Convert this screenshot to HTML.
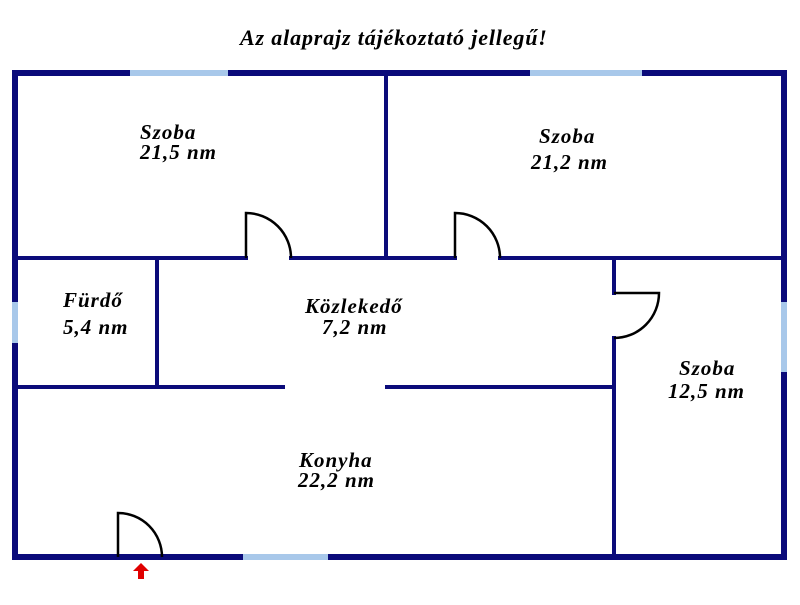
<!DOCTYPE html>
<html><head><style>
body{margin:0;background:#fff;width:800px;height:600px;overflow:hidden}
text{font-family:"Liberation Serif",serif;font-weight:bold;font-style:italic;font-size:21px;letter-spacing:1px;fill:#000}
</style></head><body>
<svg width="800" height="600" xmlns="http://www.w3.org/2000/svg">
<g stroke="#0b0b7a" fill="none" stroke-linecap="square">
<rect x="15" y="73" width="769" height="484" stroke-width="6"/>
<g stroke-width="4">
<line x1="15" y1="258" x2="246" y2="258"/>
<line x1="291" y1="258" x2="455" y2="258"/>
<line x1="500" y1="258" x2="784" y2="258"/>
<line x1="386" y1="73" x2="386" y2="258"/>
<line x1="614" y1="258" x2="614" y2="293"/>
<line x1="614" y1="338" x2="614" y2="557"/>
<line x1="157" y1="258" x2="157" y2="387"/>
<line x1="15" y1="387" x2="283" y2="387"/>
<line x1="387" y1="387" x2="614" y2="387"/>
</g>
</g>
<g stroke="#a8c8ea" stroke-width="6">
<line x1="130" y1="73" x2="228" y2="73"/>
<line x1="530" y1="73" x2="642" y2="73"/>
<line x1="243" y1="557" x2="328" y2="557"/>
<line x1="15" y1="302" x2="15" y2="343"/>
<line x1="784" y1="302" x2="784" y2="372"/>
</g>
<g stroke="#000" stroke-width="2.5" fill="none">
<path d="M246 258 V213 A45 45 0 0 1 291 258"/>
<path d="M455 258 V213 A45 45 0 0 1 500 258"/>
<path d="M614 293 H659 A45 45 0 0 1 614 338"/>
<path d="M118 557 V513 A44 44 0 0 1 162 557"/>
</g>
<path d="M141 563 L149 571 H144 V579 H138 V571 H133 Z" fill="#e00000"/>
<text x="240" y="45" style="font-size:22px;letter-spacing:0.85px">Az alaprajz tájékoztató jellegű!</text>
<text x="140" y="139">Szoba</text>
<text x="140" y="159">21,5 nm</text>
<text x="539" y="143">Szoba</text>
<text x="531" y="169">21,2 nm</text>
<text x="63" y="307">Fürdő</text>
<text x="63" y="334">5,4 nm</text>
<text x="305" y="313">Közlekedő</text>
<text x="322" y="334">7,2 nm</text>
<text x="679" y="375">Szoba</text>
<text x="668" y="398">12,5 nm</text>
<text x="299" y="467">Konyha</text>
<text x="298" y="487">22,2 nm</text>
</svg>
</body></html>
